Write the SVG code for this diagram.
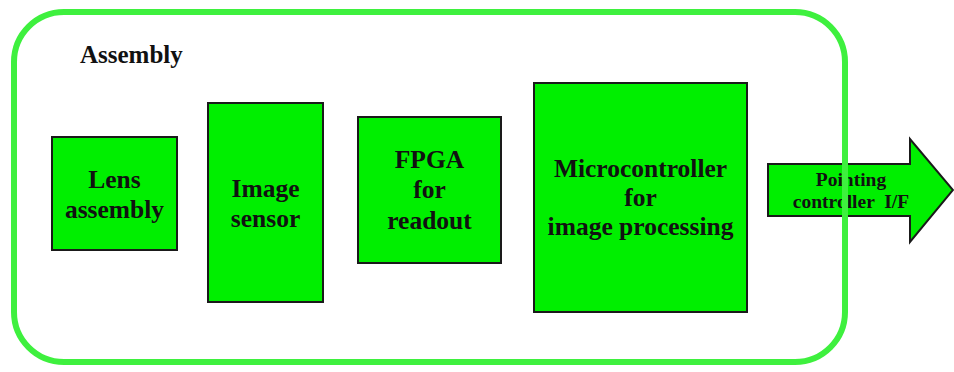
<svg xmlns="http://www.w3.org/2000/svg" width="954" height="372" viewBox="0 0 954 372">
  <style>
    .box { fill: #00ef00; stroke: #1a1a1a; stroke-width: 2; }
    .lbl { font-family: "Liberation Serif", "Times New Roman", serif; font-weight: bold; font-size: 25.5px; fill: #111; text-anchor: middle; }
    .small { font-size: 19.5px; }
  </style>
  <rect width="954" height="372" fill="#ffffff"/>

  <!-- output interface arrow, drawn under the enclosure outline -->
  <g id="pointing-if">
    <polygon class="box" points="768,164 910,164 910,139 953,190 910,242 910,216 768,216"/>
    <text class="lbl small" x="851" y="186">Pointing</text>
    <text class="lbl small" x="851" y="208" xml:space="preserve">controller  I/F</text>
  </g>

  <!-- enclosure -->
  <g id="assembly">
    <rect x="14" y="12" width="831" height="350" rx="50" ry="50" fill="none" stroke="#3ef03e" stroke-width="6"/>
    <text class="lbl" x="80" y="63" style="text-anchor:start;font-size:25px">Assembly</text>
  </g>

  <g id="lens">
    <rect class="box" x="52" y="137" width="125" height="113"/>
    <text class="lbl" x="114.5" y="188">Lens</text>
    <text class="lbl" x="114.5" y="218">assembly</text>
  </g>

  <g id="sensor">
    <rect class="box" x="208" y="103" width="115" height="199"/>
    <text class="lbl" x="265.5" y="197">Image</text>
    <text class="lbl" x="265.5" y="227">sensor</text>
  </g>

  <g id="fpga">
    <rect class="box" x="358" y="117" width="143" height="146"/>
    <text class="lbl" x="429.5" y="168">FPGA</text>
    <text class="lbl" x="429.5" y="198">for</text>
    <text class="lbl" x="429.5" y="229">readout</text>
  </g>

  <g id="mcu">
    <rect class="box" x="534" y="83" width="213" height="229"/>
    <text class="lbl" x="640.5" y="177">Microcontroller</text>
    <text class="lbl" x="640.5" y="206">for</text>
    <text class="lbl" x="640.5" y="235">image processing</text>
  </g>

  <g id="connectors"></g>
</svg>
